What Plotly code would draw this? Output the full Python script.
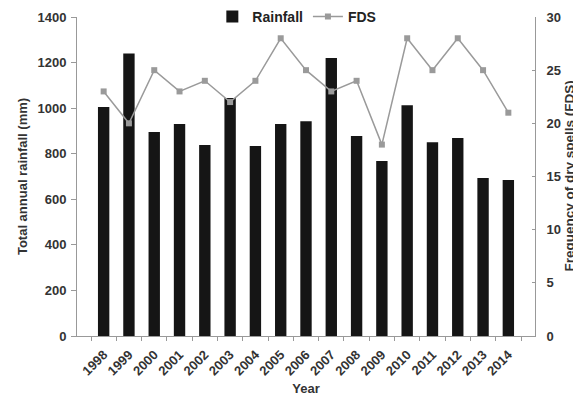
import plotly.graph_objects as go

years = [str(y) for y in range(1998, 2015)]
rainfall = [1005, 1240, 895, 930, 838, 1044, 834, 930, 943, 1220, 878, 768, 1013, 850, 869, 693, 685]
fds = [23, 20, 25, 23, 24, 22, 24, 28, 25, 23, 24, 18, 28, 25, 28, 25, 21]

font_fam = "Liberation Sans, Arial, sans-serif"
tickfont = dict(family=font_fam, size=13, color="#333333", weight="bold")
titlefont = dict(family=font_fam, size=13, color="#333333", weight="bold")
titlefont2 = dict(family=font_fam, size=13.5, color="#333333", weight="bold")

fig = go.Figure()
fig.add_trace(go.Bar(x=years, y=rainfall, name="Rainfall",
                     marker=dict(color="#151515", line=dict(width=0)),
                     width=0.45, yaxis="y"))
fig.add_trace(go.Scatter(x=years, y=fds, name="FDS", mode="lines+markers",
                         line=dict(color="#9a9a9a", width=1.5),
                         marker=dict(symbol="square", size=6, color="#9a9a9a"),
                         yaxis="y2"))

# page body has an 8px margin; figure sized so plot area lands where the reference has it
fig.update_layout(
    width=573, height=389,
    margin=dict(l=69, r=46, t=9, b=61, autoexpand=False),
    paper_bgcolor="white", plot_bgcolor="white",
    font=dict(family=font_fam, color="#333333"),
    showlegend=True,
    legend=dict(orientation="h", x=0.48, xanchor="center", y=1.0, yanchor="middle",
                bgcolor="rgba(0,0,0,0)", font=dict(size=14, color="#222222", weight="bold"),
                tracegroupgap=0),
    xaxis=dict(type="category", tickangle=-45, tickfont=tickfont, automargin=False,
               showline=True, linecolor="#999999", linewidth=1,
               ticks="outside", tickson="boundaries", ticklen=4, tickcolor="#999999",
               ticklabelstandoff=5,
               showgrid=False,
               title=dict(text="Year", font=titlefont, standoff=6)),
    yaxis=dict(range=[0, 1400], dtick=200, tickfont=tickfont, automargin=False,
               tickformat="d",
               showline=True, linecolor="#999999", linewidth=1,
               ticks="outside", ticklen=5, tickcolor="#999999",
               ticklabelstandoff=2,
               showgrid=False, zeroline=False,
               title=dict(text="Total annual rainfall (mm)", font=titlefont, standoff=6)),
    yaxis2=dict(range=[0, 30], dtick=5, overlaying="y", side="right", tickfont=tickfont,
                automargin=False,
                showline=True, linecolor="#999999", linewidth=1,
                ticks="inside", ticklen=3, tickcolor="#999999",
                ticklabelstandoff=8,
                showgrid=False, zeroline=False),
    annotations=[dict(text="Frequency of dry spells (FDS)", font=titlefont2,
                      xref="paper", yref="paper", x=1, y=0.5,
                      xanchor="center", yanchor="middle", xshift=34,
                      textangle=-90, showarrow=False)],
)

fig.write_html("out.html")
